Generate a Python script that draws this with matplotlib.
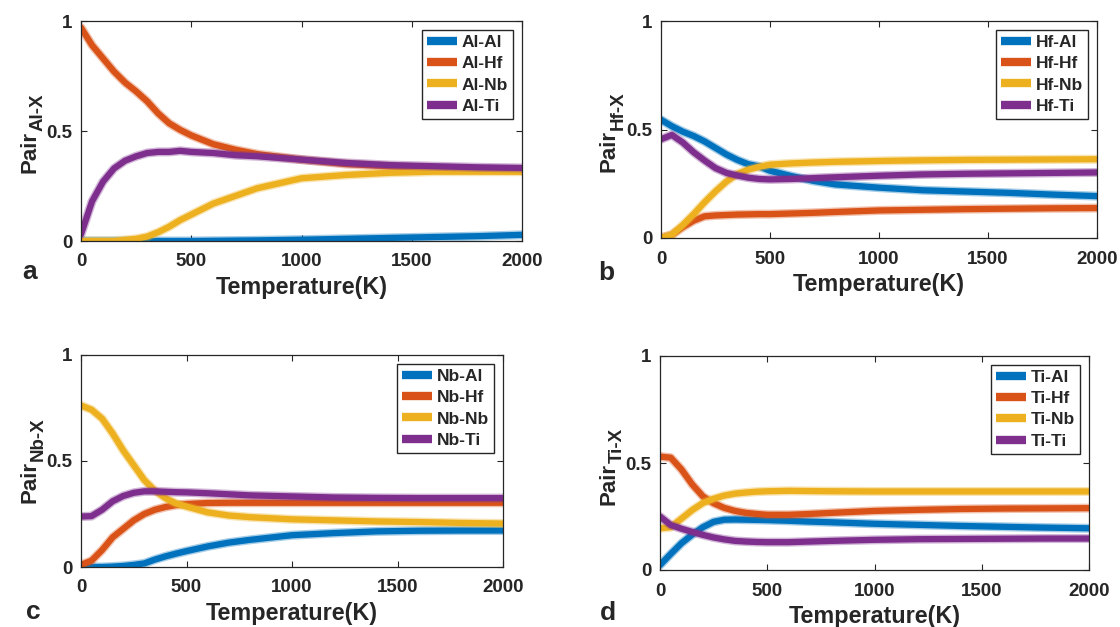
import numpy as np
import matplotlib
matplotlib.use("Agg")
import matplotlib.pyplot as plt

plt.rcParams["font.family"] = ["Liberation Sans", "DejaVu Sans"]
plt.rcParams["font.weight"] = "bold"
plt.rcParams["axes.labelweight"] = "bold"

# temperature grid (K) shared by all panels
temperature = [0, 50, 100, 150, 200, 250, 300, 350, 400, 450, 500,
               600, 700, 800, 1000, 1200, 1400, 1600, 1800, 2000]

# pair fractions around Al
al_al = [0, 0, 0, 0, 0, 0, 0, 0, 0, 0, 0,
         0.001, 0.002, 0.003, 0.006, 0.010, 0.014, 0.018, 0.022, 0.028]
al_hf = [0.97, 0.89, 0.83, 0.77, 0.72, 0.68, 0.635, 0.58, 0.535, 0.505, 0.48,
         0.44, 0.415, 0.395, 0.37, 0.35, 0.34, 0.33, 0.325, 0.32]
al_nb = [0, 0, 0, 0, 0.005, 0.01, 0.02, 0.04, 0.065, 0.095, 0.12,
         0.17, 0.205, 0.24, 0.285, 0.30, 0.31, 0.315, 0.315, 0.315]
al_ti = [0.03, 0.18, 0.27, 0.33, 0.365, 0.385, 0.40, 0.405, 0.405, 0.41, 0.405,
         0.40, 0.39, 0.385, 0.37, 0.355, 0.345, 0.34, 0.335, 0.332]

# pair fractions around Hf
hf_al = [0.545, 0.515, 0.49, 0.47, 0.445, 0.415, 0.385, 0.36, 0.34, 0.33, 0.31,
         0.285, 0.263, 0.247, 0.232, 0.22, 0.214, 0.208, 0.20, 0.193]
hf_hf = [0.0, 0.015, 0.05, 0.08, 0.10, 0.104, 0.106, 0.108, 0.109, 0.11, 0.11,
         0.113, 0.116, 0.12, 0.127, 0.13, 0.133, 0.135, 0.137, 0.138]
hf_nb = [0.0, 0.015, 0.06, 0.11, 0.165, 0.215, 0.26, 0.295, 0.315, 0.328, 0.338,
         0.344, 0.348, 0.351, 0.355, 0.358, 0.36, 0.361, 0.362, 0.363]
hf_ti = [0.455, 0.475, 0.44, 0.395, 0.357, 0.322, 0.30, 0.288, 0.278, 0.272, 0.27,
         0.272, 0.276, 0.28, 0.287, 0.293, 0.296, 0.298, 0.30, 0.302]

# pair fractions around Nb
nb_al = [0, 0, 0, 0.002, 0.005, 0.01, 0.017, 0.035, 0.05, 0.063, 0.075,
         0.097, 0.115, 0.128, 0.15, 0.16, 0.168, 0.171, 0.172, 0.172]
nb_hf = [0.01, 0.03, 0.08, 0.14, 0.18, 0.22, 0.25, 0.27, 0.283, 0.292, 0.297,
         0.302, 0.303, 0.303, 0.303, 0.303, 0.303, 0.303, 0.303, 0.303]
nb_nb = [0.762, 0.742, 0.70, 0.63, 0.55, 0.48, 0.41, 0.36, 0.325, 0.30, 0.285,
         0.258, 0.243, 0.235, 0.225, 0.22, 0.215, 0.212, 0.208, 0.205]
nb_ti = [0.238, 0.24, 0.27, 0.31, 0.335, 0.35, 0.357, 0.357, 0.355, 0.353, 0.352,
         0.348, 0.343, 0.338, 0.333, 0.328, 0.326, 0.325, 0.325, 0.325]

# pair fractions around Ti
ti_al = [0.023, 0.075, 0.125, 0.165, 0.20, 0.225, 0.235, 0.236, 0.235, 0.234, 0.233,
         0.23, 0.226, 0.223, 0.216, 0.211, 0.206, 0.202, 0.198, 0.195]
ti_hf = [0.53, 0.525, 0.47, 0.40, 0.344, 0.312, 0.29, 0.276, 0.267, 0.262, 0.258,
         0.258, 0.262, 0.267, 0.276, 0.281, 0.285, 0.287, 0.288, 0.289]
ti_nb = [0.195, 0.20, 0.24, 0.28, 0.313, 0.333, 0.348, 0.357, 0.362, 0.366, 0.368,
         0.37, 0.369, 0.368, 0.367, 0.367, 0.367, 0.367, 0.367, 0.367]
ti_ti = [0.25, 0.21, 0.193, 0.178, 0.164, 0.152, 0.143, 0.136, 0.133, 0.131, 0.13,
         0.13, 0.133, 0.136, 0.141, 0.144, 0.145, 0.146, 0.147, 0.147]

partners = ["Al", "Hf", "Nb", "Ti"]
colors = ["#0072BD", "#D95319", "#EDB120", "#7E2F8E"]

W, H = 1120, 627
PX = 0.72  # points per pixel at dpi 100
# (centre element, series, axes box in pixels: left, top, right, bottom, letter xy)
panels = [
    ("Al", [al_al, al_hf, al_nb, al_ti], (81, 21, 522, 241), "a", (30, 279)),
    ("Hf", [hf_al, hf_hf, hf_nb, hf_ti], (661, 21, 1097, 238), "b", (606, 280)),
    ("Nb", [nb_al, nb_hf, nb_nb, nb_ti], (81, 355, 503, 567), "c", (33, 619)),
    ("Ti", [ti_al, ti_hf, ti_nb, ti_ti], (660, 356, 1089, 570), "d", (608, 620)),
]

fig = plt.figure(figsize=(W / 100, H / 100), dpi=100)
ink = "#262626"

for center, series, (l, t, r, b), letter, (lx, ly) in panels:
    ax = fig.add_axes([l / W, 1 - b / H, (r - l) / W, (b - t) / H])
    for partner, vals, c in zip(partners, series, colors):
        # soft fringe under each trace, then the trace itself
        ax.plot(temperature, vals, color=c, lw=6.5, alpha=0.35,
                solid_capstyle="round")
        ax.plot(temperature, vals, color=c, lw=4.5, label=f"{center}-{partner}",
                solid_capstyle="round", solid_joinstyle="round")
    ax.set_xlim(0, 2000)
    ax.set_ylim(0, 1)
    ax.set_xticks([0, 500, 1000, 1500, 2000])
    ax.set_yticks([0, 0.5, 1])
    ax.set_yticklabels(["0", "0.5", "1"])
    ax.tick_params(direction="in", length=4, width=0.8, top=True, right=True,
                   labelsize=13.5, colors=ink, pad=6)
    ax.tick_params(axis="x", pad=9)
    for s in ax.spines.values():
        s.set_color(ink)
        s.set_linewidth(0.9)

    ax.set_xlabel("Temperature(K)", fontsize=16.8, color=ink, fontweight="bold")
    ax.xaxis.set_label_coords(0.5, -35 / (b - t))

    # y label: "Pair" with a large subscript, built from two rotated texts
    ax.annotate("Pair", xy=(0, 0.5), xycoords="axes fraction",
                xytext=(-46 * PX, 0), textcoords="offset points",
                rotation=90, rotation_mode="anchor", ha="right",
                va="baseline", fontsize=16, color=ink, fontweight="bold")
    ax.annotate(f"{center}-X", xy=(0, 0.5), xycoords="axes fraction",
                xytext=(-38 * PX, 0), textcoords="offset points",
                rotation=90, rotation_mode="anchor", ha="left",
                va="baseline", fontsize=13.5, color=ink, fontweight="bold")

    leg = ax.legend(loc="upper right", fontsize=12.5, handlelength=1.7,
                    handletextpad=0.3, labelspacing=0.35, borderpad=0.3,
                    borderaxespad=0.5, fancybox=False, framealpha=1,
                    edgecolor=ink)
    leg.get_frame().set_linewidth(1)
    for h in leg.get_lines():
        h.set_linewidth(6)
        h.set_alpha(1)
        h.set_solid_capstyle("butt")
    for txt in leg.get_texts():
        txt.set_color(ink)

    fig.text(lx / W, 1 - ly / H, letter, fontsize=19, ha="center",
             va="baseline", color=ink)

fig.savefig("out.png", dpi=100, facecolor="white")
